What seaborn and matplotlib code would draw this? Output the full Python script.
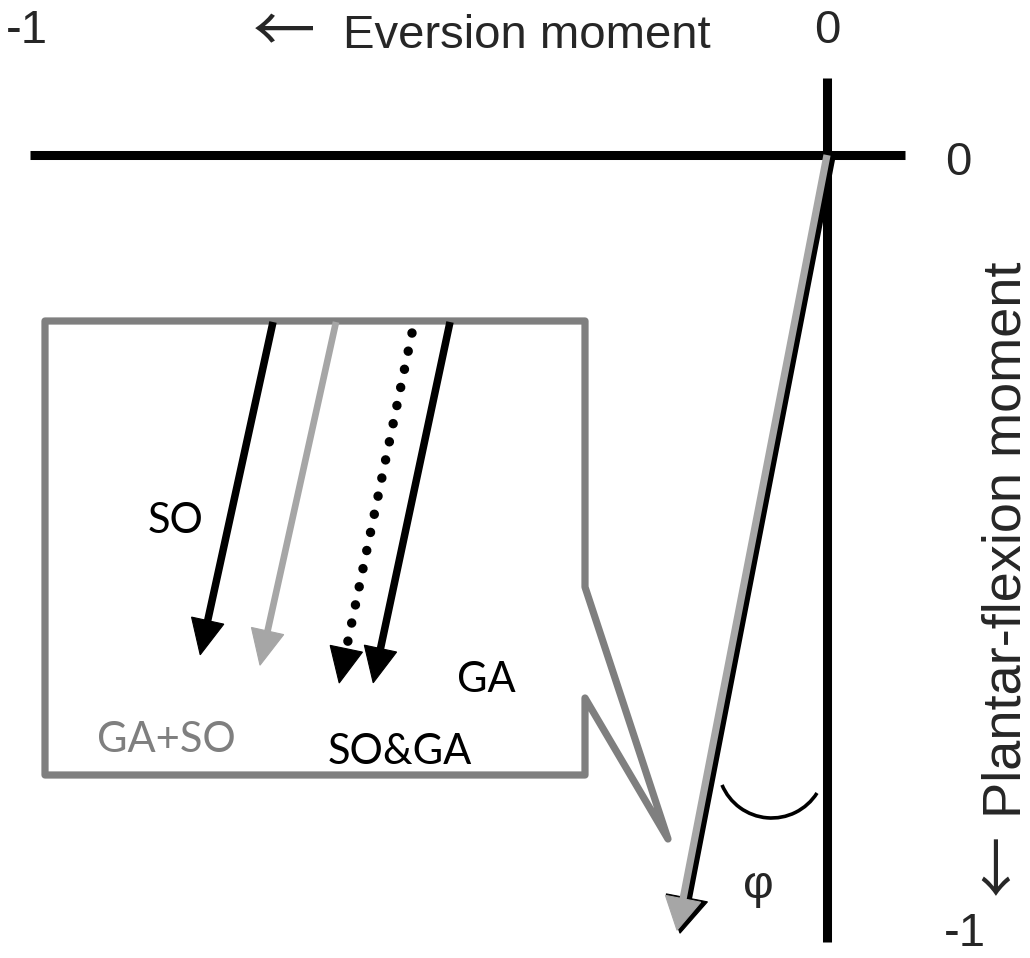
import numpy as np
import pandas as pd
import matplotlib
matplotlib.use("Agg")
import matplotlib.pyplot as plt
from matplotlib.patches import Polygon, Arc
import seaborn as sns

# ---- data: normalised ankle moments (eversion, plantar-flexion) ----
resultant_eversion = -0.1875
resultant_plantar = -0.969

inset_labels = ["SO", "GA+SO", "SO&GA", "GA"]
inset_eversion = [-0.091, -0.095, -0.091, -0.096]
inset_plantar = [-0.416, -0.429, -0.4375, -0.451]

x_ticks = [-1, 0]
y_ticks = [0, -1]
x_title = "\u2190 Eversion moment"
y_title = "\u2190 Plantar-flexion moment"
angle_label = "\u03c6"

# ---- layout ----
PX = 800.0          # pixels per moment unit (equal on both axes)
OX, OY = 827, 155   # pixel position of the origin


def P(px, py):
    """Pixel position -> moment coordinates."""
    return ((px - OX) / PX, (OY - py) / PX)


BLACK = "#000000"
BOX_GREY = "#7f7f7f"
ARROW_GREY = "#a6a6a6"

sns.set_theme(style="white")
plt.rcParams["font.family"] = ["Liberation Sans", "DejaVu Sans"]

fig = plt.figure(figsize=(10.3, 9.58), dpi=100)
ax = fig.add_axes([0, 0, 1, 1])
ax.set_xlim(-OX / PX, (1030 - OX) / PX)
ax.set_ylim((OY - 958) / PX, OY / PX)
ax.set_axis_off()


def arrow(tail, dx, dy, color, lw, head_len, head_w, dotted=False, z=3):
    """Shaft + solid triangular head; head sizes in pixels."""
    tail = np.asarray(tail, float)
    vec = np.array([dx, dy])
    tip = tail + vec
    u = vec / np.hypot(*vec)
    n = np.array([-u[1], u[0]])
    L, W = head_len / PX, head_w / PX / 2
    base = tip - u * L
    if dotted:
        ax.plot([tail[0], base[0] + u[0] * 0.01], [tail[1], base[1] + u[1] * 0.01],
                color=color, lw=lw, linestyle=(0, (0.01, 1.95)),
                dash_capstyle="round", zorder=z)
    else:
        shaft_end = base + u * (L * 0.3)
        ax.plot([tail[0], shaft_end[0]], [tail[1], shaft_end[1]],
                color=color, lw=lw, solid_capstyle="butt", zorder=z)
    ax.add_patch(Polygon([tip, base + n * W, base - n * W], closed=True,
                         facecolor=color, edgecolor=color, lw=0.8, zorder=z))


# ---- coordinate cross ----
axes_df = pd.DataFrame({
    "x": [-0.996, 0.0975, 0.0, 0.0],
    "y": [0.0, 0.0, 0.096, -0.984],
    "seg": ["h", "h", "v", "v"],
})
sns.lineplot(data=axes_df, x="x", y="y", units="seg", estimator=None,
             sort=False, color=BLACK, lw=6.5, ax=ax, zorder=2,
             solid_capstyle="butt")

# ---- callout box with pointer ----
box_px = [(45, 321), (585, 321), (585, 587), (668, 839),
          (585, 698), (585, 775), (45, 775)]
ax.add_patch(Polygon([P(*p) for p in box_px], closed=True, facecolor="white",
                     edgecolor=BOX_GREY, lw=5.2, joinstyle="round", zorder=1))

# ---- inset arrows ----
inset_tails = [P(273, 322), P(336, 322), P(412, 333), P(450, 322)]
inset_style = [
    dict(color=BLACK, lw=5.4, dotted=False),
    dict(color=ARROW_GREY, lw=4.8, dotted=False),
    dict(color=BLACK, lw=6.8, dotted=True),
    dict(color=BLACK, lw=5.4, dotted=False),
]
for tail, ex, pf, st in zip(inset_tails, inset_eversion, inset_plantar, inset_style):
    arrow(tail, ex, pf, st["color"], st["lw"], 35, 33, dotted=st["dotted"])

# ---- resultant moment (shadowed grey arrow) ----
arrow(P(830, 158), resultant_eversion, resultant_plantar, BLACK, 7.6, 36, 42, z=4)
arrow((0, 0), resultant_eversion, resultant_plantar, ARROW_GREY, 5.2, 32, 36, z=5)

# ---- angle marker ----
ax.add_patch(Arc(P(771.6, 764.3), 2 * 53.7 / PX, 2 * 53.7 / PX,
                 theta1=202.6, theta2=327.7, color=BLACK, lw=2.6, zorder=3))

# ---- axis texts ----
big = 34
arrow_font = ["Noto Sans CJK JP", "DejaVu Sans"]
x_arrow, x_words = x_title.split(" ", 1)
y_arrow, y_words = y_title.split(" ", 1)

ax.text(x_ticks[0], (OY - 43) / PX, "-1", ha="center", va="baseline", fontsize=big)
ax.text(x_ticks[1], (OY - 43) / PX, "0", ha="center", va="baseline", fontsize=big)
ax.text(*P(343, 48), x_words, ha="left", va="baseline", fontsize=big)
ax.text(*P(284, 34), x_arrow, ha="center", va="center", fontsize=45,
        family=arrow_font)

ax.text(P(958, 0)[0], y_ticks[0] - 20 / PX, "0", ha="center", va="baseline", fontsize=big)
ax.text(P(965, 0)[0], y_ticks[1] + 9 / PX, "-1", ha="center", va="baseline",
        fontsize=big)

ax.text(*P(1006, 540), y_words, rotation=90, ha="center", va="center", fontsize=39)
ax.text(*P(1000, 864), y_arrow, rotation=90, ha="center", va="center",
        fontsize=44, family=arrow_font)

ax.text(*P(758, 898), angle_label, ha="center", va="baseline", fontsize=big)

# ---- inset labels ----
lab_font = ["Lato", "DejaVu Sans"]
lab_pos = [P(176, 521), P(166, 740), P(400, 752), P(486, 680)]
lab_col = [BLACK, BOX_GREY, BLACK, BLACK]
for name, pos, col in zip(inset_labels, lab_pos, lab_col):
    ax.text(*pos, name, ha="center", va="center", fontsize=30,
            color=col, family=lab_font)

fig.savefig("out.png", dpi=100, facecolor="white")
